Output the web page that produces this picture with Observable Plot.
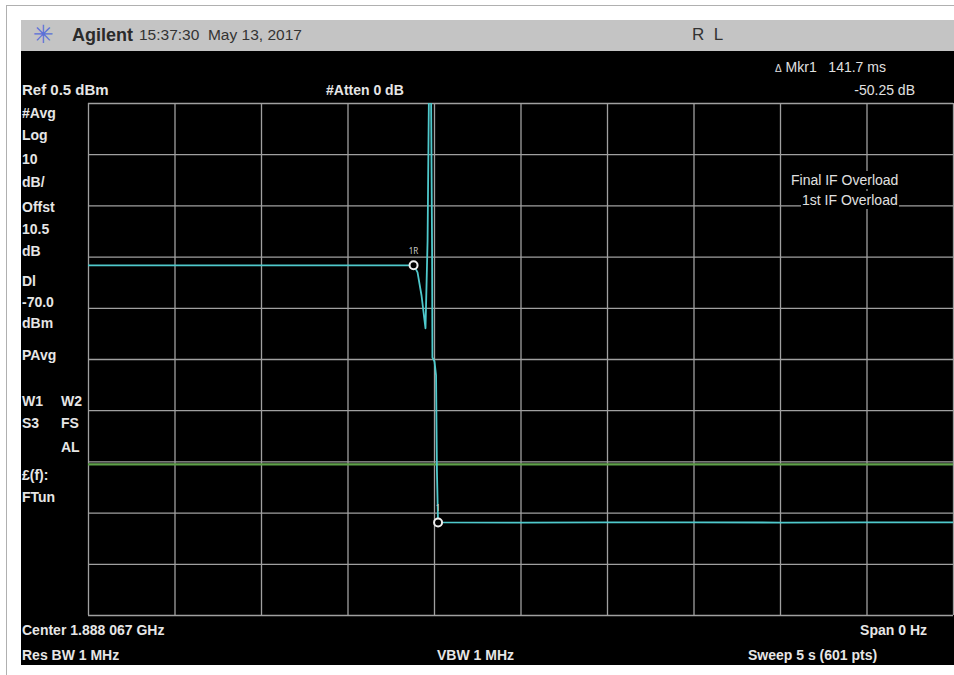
<!DOCTYPE html>
<html><head><meta charset="utf-8">
<script src="https://cdn.jsdelivr.net/npm/d3@7"></script>
<script src="https://cdn.jsdelivr.net/npm/@observablehq/plot@0.6"></script>
<style>
html,body{margin:0;padding:0;background:#fff;overflow:hidden;width:954px;height:675px;}
#root{position:relative;width:954px;height:675px;font-family:"Liberation Sans",Arial,sans-serif;overflow:hidden;}
.a{position:absolute;white-space:nowrap;line-height:16px;}
.w{color:#e6e6e6;font-weight:bold;font-size:14px;}
.r{color:#e0e0e0;font-size:14px;}
#plot{position:absolute;left:78px;top:93px;width:885px;height:532px;}
#plot svg{max-width:none !important;}
</style></head>
<body>
<div id="root">
  <div style="position:absolute;left:6px;top:5px;width:948px;height:1px;background:#b0b0b0"></div>
  <div style="position:absolute;left:6px;top:5px;width:1px;height:670px;background:#b0b0b0"></div>
  <div style="position:absolute;left:21px;top:20px;width:933px;height:31px;background:#c4c4c4"></div>
  <div style="position:absolute;left:21px;top:51px;width:933px;height:614px;background:#000"></div>
  <div id="plot"></div>

  <div class="a" style="left:33px;top:22px;font-size:25px;line-height:25px;color:#5b70d8;font-family:'DejaVu Sans'">✳</div>
  <div class="a" style="left:72px;top:26px;font-size:18px;line-height:18px;font-weight:bold;color:#2a2a2a">Agilent</div>
  <div class="a" style="left:139px;top:27px;font-size:15.5px;color:#333">15:37:30&nbsp; May 13, 2017</div>
  <div class="a" style="left:692px;top:26px;font-size:17px;line-height:18px;color:#333">R&nbsp;&nbsp;L</div>

  <div class="a r" style="left:775px;top:59px"><span style="font-size:10px">Δ</span> Mkr1&nbsp;&nbsp; 141.7 ms</div>
  <div class="a r" style="right:39px;top:82px">-50.25 dB</div>
  <div class="a w" style="left:22px;top:82px;font-size:15px">Ref 0.5 dBm</div>
  <div class="a w" style="left:326px;top:82px">#Atten 0 dB</div>

  <div class="a w" style="left:22px;top:105px">#Avg</div>
  <div class="a w" style="left:22px;top:127px">Log</div>
  <div class="a w" style="left:22px;top:151px">10</div>
  <div class="a w" style="left:22px;top:174px">dB/</div>
  <div class="a w" style="left:22px;top:199px">Offst</div>
  <div class="a w" style="left:22px;top:221px">10.5</div>
  <div class="a w" style="left:22px;top:243px">dB</div>
  <div class="a w" style="left:22px;top:273px">Dl</div>
  <div class="a w" style="left:22px;top:294px">-70.0</div>
  <div class="a w" style="left:22px;top:315px">dBm</div>
  <div class="a w" style="left:22px;top:347px">PAvg</div>
  <div class="a w" style="left:22px;top:393px">W1</div>
  <div class="a w" style="left:61px;top:393px">W2</div>
  <div class="a w" style="left:22px;top:415px">S3</div>
  <div class="a w" style="left:61px;top:415px">FS</div>
  <div class="a w" style="left:61px;top:439px">AL</div>
  <div class="a w" style="left:22px;top:467px">£(f):</div>
  <div class="a w" style="left:22px;top:489px">FTun</div>

  <div class="a r" style="left:790px;top:171px;background:#000;padding:1px 1px">Final IF Overload</div>
  <div class="a r" style="left:801px;top:191px;background:#000;padding:1px 1px">1st IF Overload</div>

  <div class="a w" style="left:22px;top:622px">Center 1.888 067 GHz</div>
  <div class="a w" style="right:27px;top:622px">Span 0 Hz</div>
  <div class="a w" style="left:22px;top:647px">Res BW 1 MHz</div>
  <div class="a w" style="left:437px;top:647px">VBW 1 MHz</div>
  <div class="a w" style="left:748px;top:647px">Sweep 5 s (601 pts)</div>
</div>
<script>
// grid divisions (time in s, level in dBm)
const timeTicks = [0, 0.5, 1, 1.5, 2, 2.5, 3, 3.5, 4, 4.5, 5];
const levelTicks = [0.5, -9.5, -19.5, -29.5, -39.5, -49.5, -59.5, -69.5, -79.5, -89.5, -99.5];
const displayLineDbm = [-70.0];

// trace (time s, level dBm)
const traceT   = [0, 0.5, 1.0, 1.5, 1.867, 1.884, 1.902, 1.925, 1.948, 1.960, 1.968, 1.980, 1.986, 1.988, 2.000, 2.009, 2.014, 2.020, 2.035, 2.5, 3.0, 3.5, 4.0, 4.5, 5.0];
const traceDbm = [-31.1, -31.1, -31.1, -31.1, -31.1, -31.3, -32.5, -37.0, -43.4, -26.3, 3.0, 3.0, -28.2, -49.1, -49.9, -52.6, -71.2, -80.6, -81.3, -81.35, -81.3, -81.3, -81.35, -81.3, -81.3];

// markers
const markerLabels = ["1R", "1"];
const markerT = [1.879, 2.0207];
const markerDbm = [-31.1, -81.35];

const trace = traceT.map((t, i) => ({t, dbm: traceDbm[i]}));
const markers = markerLabels.map((label, i) => ({label, t: markerT[i], dbm: markerDbm[i]}));

const chart = Plot.plot({
  width: 885, height: 532,
  marginTop: 10, marginBottom: 10, marginLeft: 10, marginRight: 10,
  style: {background: "transparent", overflow: "visible", maxWidth: "none"},
  x: {domain: [0, 5], axis: null},
  y: {domain: [-99.5, 0.5], axis: null},
  marks: [
    Plot.ruleX(timeTicks, {stroke: "#a0a0a0", strokeWidth: 1.3}),
    Plot.ruleY(levelTicks, {stroke: "#a0a0a0", strokeWidth: 1.3}),
    Plot.ruleY(displayLineDbm, {stroke: "#5fa04a", strokeWidth: 2.2}),
    Plot.line(trace, {x: "t", y: "dbm", stroke: "#4fc9cc", strokeWidth: 1.8, clip: true}),
    Plot.dot(markers, {x: "t", y: "dbm", r: 4, stroke: "#eeeeee", fill: "#000", strokeWidth: 2}),
    Plot.text(markers, {x: "t", y: "dbm", text: "label", dy: -14, fill: "#cccccc", fontSize: 8})
  ]
});
document.getElementById("plot").appendChild(chart);
</script>
</body></html>
